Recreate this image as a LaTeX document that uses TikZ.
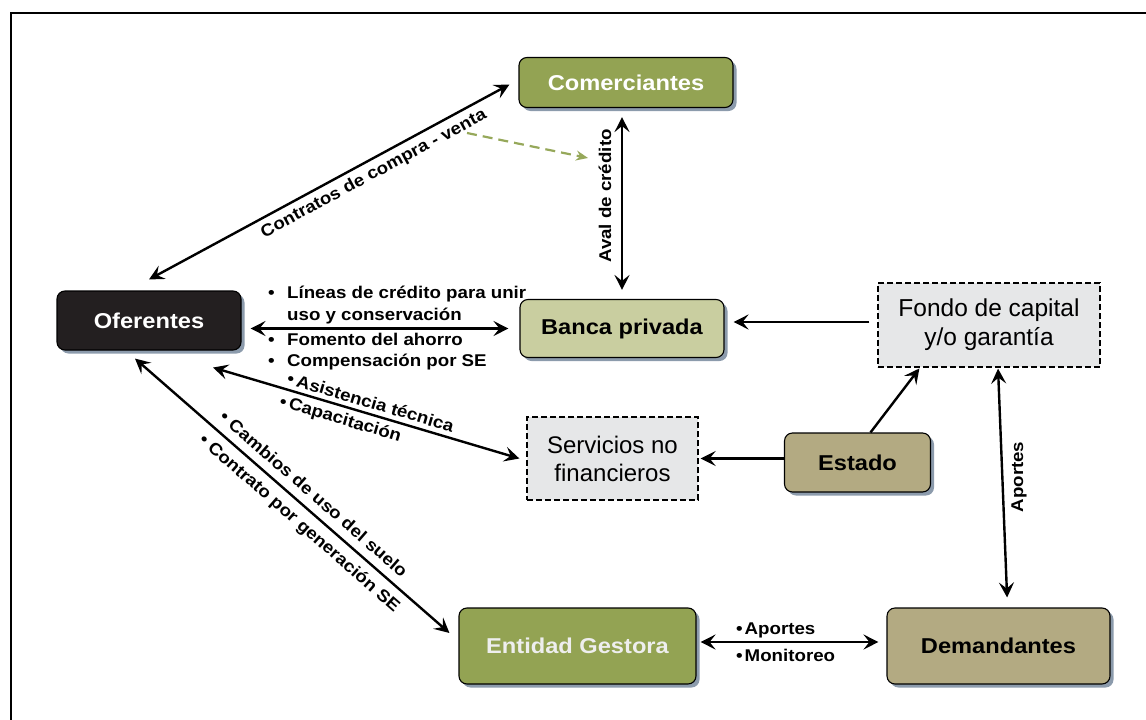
\documentclass[tikz,border=0pt]{standalone}
\usepackage{fontspec}
\setmainfont{Liberation Sans}
\newfontface\bfw[FakeStretch=1.1]{Liberation Sans Bold}
\usetikzlibrary{arrows.meta,shadows,calc}
\definecolor{olivec}{RGB}{147,163,83}
\definecolor{lightol}{RGB}{201,206,160}
\definecolor{khakic}{RGB}{179,170,130}
\definecolor{darkc}{RGB}{35,31,32}
\definecolor{greyfill}{RGB}{230,231,232}
\definecolor{shadowc}{RGB}{140,155,172}
\definecolor{greenarr}{RGB}{150,168,90}
\definecolor{whitish}{RGB}{238,238,238}
\begin{document}
\begin{tikzpicture}[x=1pt,y=-1pt,
  box/.style={draw=black, line width=1.1pt, rounded corners=8pt, inner sep=0pt,
    drop shadow={shadow xshift=3.5pt, shadow yshift=-3.5pt, fill=shadowc, opacity=1},
    font=\bfw\fontsize{21.5}{24}\selectfont},
  dbox/.style={draw=black, line width=1.3pt, dashed, dash pattern=on 6pt off 3pt,
    fill=greyfill, inner sep=0pt, align=center, font=\fontsize{24.5}{29}\selectfont},
  lab/.style={inner sep=0pt, font=\bfw\fontsize{17}{19}\selectfont},
  con/.style={line width=2.4pt, -{Stealth[length=15pt,width=15pt,inset=6pt]}},
  dbl/.style={line width=2.4pt, {Stealth[length=15pt,width=15pt,inset=6pt]}-{Stealth[length=15pt,width=15pt,inset=6pt]}}
]
\useasboundingbox (0,0) rectangle (1146,720);
\draw[line width=2.2pt] (1160,13) -- (11,13) -- (11,735);

% nodes
\node[box, fill=olivec, text=white, minimum width=214pt, minimum height=50pt] (com) at (626,82.5) {Comerciantes};
\node[box, fill=darkc, text=white, minimum width=184pt, minimum height=59pt] (ofe) at (149,320.5) {Oferentes};
\node[box, fill=lightol, text=black, minimum width=204pt, minimum height=58pt] (ban) at (622,328.5) {Banca privada};
\node[dbox, minimum width=222pt, minimum height=84pt] (fon) at (989,325) {Fondo de capital\\y/o garantía};
\node[dbox, minimum width=171pt, minimum height=83pt, font=\fontsize{24}{28}\selectfont] (ser) at (612.5,458.5) {Servicios no\\financieros};
\node[box, fill=khakic, text=black, minimum width=146pt, minimum height=59pt] (est) at (857.5,462.5) {Estado};
\node[box, fill=olivec, text=whitish, minimum width=237pt, minimum height=76pt] (ent) at (577.5,646) {Entidad Gestora};
\node[box, fill=khakic, text=black, minimum width=223pt, minimum height=76pt] (dem) at (998.5,646) {Demandantes};

% free ends of the dashed green arrow
\coordinate (g1) at (467,133);
\coordinate (g2) at (588,158);

% connectors
\draw[dbl] ([yshift=11pt]ofe.north) -- ([xshift=-9pt,yshift=-2pt]com.west);
\draw[line width=2.2pt, greenarr, dashed, dash pattern=on 10pt off 6pt, -{Stealth[length=12pt,width=10pt,inset=4pt]}] (g1) -- (g2);
\draw[dbl, shorten <=9pt, shorten >=9pt] ([xshift=-4pt]com.south) -- (ban.north);
\draw[dbl, shorten <=9pt, shorten >=11pt] ([yshift=-8pt]ofe.east) -- ([yshift=-8pt]ofe.east -| ban.west);
\draw[con, shorten <=8pt, shorten >=9pt] ([yshift=3pt]fon.west) -- ([yshift=3pt]fon.west -| ban.east);
\draw[dbl] ([xshift=64pt,yshift=-17pt]ofe.south) -- ([xshift=-7pt]ser.west);
\draw[con, shorten >=2pt] ([yshift=4pt]est.west) -- ([yshift=4pt]est.west -| ser.east);
\draw[con, shorten >=1pt] ([xshift=13pt]est.north) -- ([xshift=-69pt]fon.south);
\draw[dbl, shorten <=1pt, shorten >=10pt] ([xshift=9pt]fon.south) -- ([xshift=9pt]dem.north);
\draw[dbl] ([xshift=-14pt,yshift=-8pt]ofe.south) -- ([xshift=-9pt,yshift=13pt]ent.west);
\draw[dbl, shorten <=4pt, shorten >=8pt] ([yshift=4pt]ent.east) -- ([yshift=4pt]ent.east -| dem.west);

% labels
\node[lab, rotate=28.3, anchor=base] (lcon) at (376,178) {Contratos de compra - venta};
\node[lab, rotate=90] (laval) at (605,196) {Aval de crédito};
\node[lab, anchor=west] (lb1) at (268,294) {\makebox[19pt][l]{\textbullet}Líneas de crédito para unir};
\node[lab, anchor=west] (lb2) at (287,316) {uso y conservación};
\node[lab, anchor=west] (lb3) at (268,339) {\makebox[19pt][l]{\textbullet}Fomento del ahorro};
\node[lab, anchor=west] (lb4) at (268,362) {\makebox[19pt][l]{\textbullet}Compensación por SE};
\node[lab, rotate=-16.5, anchor=base] (lasi) at (369,408) {\textbullet\hspace{3pt}Asistencia técnica};
\node[lab, rotate=-16.5, anchor=base] (lcap) at (339,424) {\textbullet\hspace{3pt}Capacitación};
\node[lab, rotate=-41.1, anchor=base] (lcam) at (310,498.5) {\textbullet\hspace{5pt}Cambios de uso del suelo};
\node[lab, rotate=-41.1, anchor=base] (lctr) at (296,527) {\textbullet\hspace{5pt}Contrato por generación SE};
\node[lab, rotate=90] (lapo) at (1019,477) {Aportes};
\node[lab, anchor=west] (lea) at (736,630) {\textbullet\hspace{2pt}Aportes};
\node[lab, anchor=west] (lem) at (736,655) {\textbullet\hspace{2pt}Monitoreo};
\end{tikzpicture}
\end{document}
